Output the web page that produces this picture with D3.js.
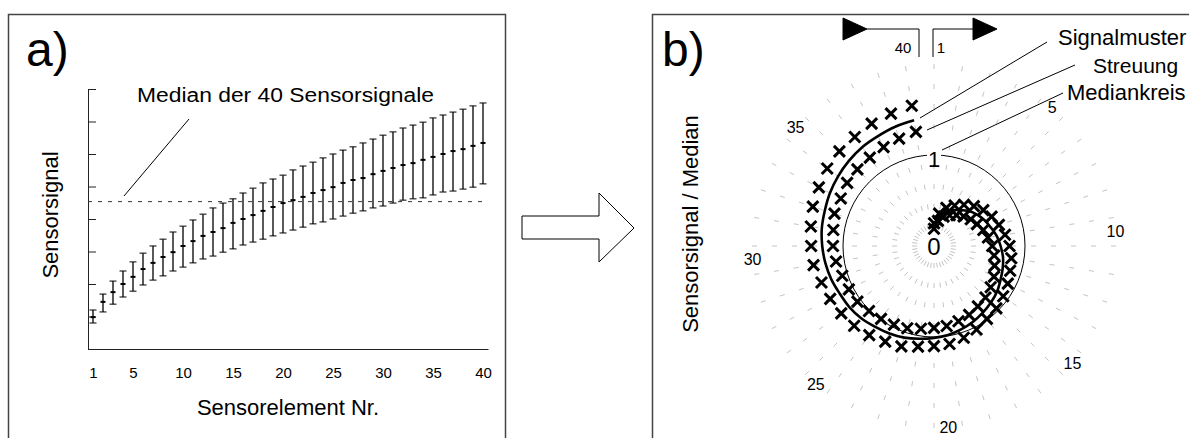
<!DOCTYPE html>
<html>

<head>
    <meta charset="utf-8" />
    <title>Sensorsignale</title>
    <script type="text/javascript" src="https://cdnjs.cloudflare.com/ajax/libs/d3/7.8.5/d3.min.js"></script>
    <style>
        body { margin: 0; background: #fff; }
        svg text { font-family: "Liberation Sans", Arial, sans-serif; fill: #000; }
    </style>
</head>

<body>
    <script type="text/javascript">
        // Sensorelemente 1..40
        const sensorNr = d3.range(1, 41);

        // a) Sensorsignal je Element: Median, Maximum, Minimum
        const medians = [0.98, 1.45, 1.75, 2.00, 2.22, 2.46, 2.65, 2.83, 2.98, 3.17,
            3.32, 3.48, 3.60, 3.72, 3.88, 4.00, 4.12, 4.25, 4.37, 4.49,
            4.58, 4.68, 4.80, 4.89, 4.98, 5.11, 5.20, 5.26, 5.38, 5.48,
            5.57, 5.66, 5.72, 5.82, 5.91, 6.00, 6.09, 6.15, 6.25, 6.34];
        const maxima = [1.20, 1.69, 2.09, 2.40, 2.68, 2.95, 3.17, 3.38, 3.60, 3.78,
            3.97, 4.15, 4.34, 4.49, 4.62, 4.80, 4.95, 5.11, 5.23, 5.35,
            5.51, 5.63, 5.75, 5.88, 6.00, 6.12, 6.22, 6.34, 6.46, 6.58,
            6.68, 6.80, 6.89, 6.98, 7.11, 7.20, 7.29, 7.38, 7.48, 7.57];
        const minima = [0.80, 1.14, 1.38, 1.60, 1.78, 1.97, 2.12, 2.25, 2.40, 2.52,
            2.65, 2.77, 2.86, 2.98, 3.08, 3.20, 3.29, 3.38, 3.48, 3.57,
            3.66, 3.75, 3.85, 3.91, 4.00, 4.09, 4.18, 4.25, 4.34, 4.40,
            4.49, 4.58, 4.62, 4.65, 4.74, 4.83, 4.86, 4.92, 4.98, 5.08];

        // b) Streuung (Sensorsignal / Median), aussen und innen
        const streuHi = [0.25, 0.36, 0.44, 0.50, 0.56, 0.62, 0.67, 0.71, 0.75, 0.79,
            0.83, 0.86, 0.88, 0.91, 0.94, 0.97, 0.99, 1.03, 1.06, 1.09,
            1.10, 1.12, 1.16, 1.18, 1.21, 1.24, 1.26, 1.28, 1.30, 1.34,
            1.35, 1.37, 1.40, 1.42, 1.45, 1.47, 1.48, 1.51, 1.53, 1.56];
        const streuLo = [0.19, 0.28, 0.34, 0.38, 0.42, 0.46, 0.50, 0.53, 0.57, 0.60,
            0.64, 0.67, 0.70, 0.74, 0.77, 0.80, 0.82, 0.85, 0.87, 0.89,
            0.90, 0.92, 0.95, 0.97, 0.99, 1.01, 1.04, 1.05, 1.06, 1.09,
            1.11, 1.12, 1.15, 1.15, 1.18, 1.19, 1.20, 1.22, 1.24, 1.27];

        const xTicks = [1, 5, 10, 15, 20, 25, 30, 35, 40];
        const yTicks = [0, 1, 2, 3, 4, 5, 6, 7, 8];
        const polarLabels = [5, 10, 15, 20, 25, 30, 35];
        const legendLabels = ["Signalmuster", "Streuung", "Mediankreis"];

        const overallMedian = d3.median(medians);
        const ratio = medians.map(m => m / overallMedian);

        const svg = d3.select("body").append("svg")
            .attr("width", 1189)
            .attr("height", 438);

        // Rahmen
        svg.append("rect")
            .attr("x", 8.5).attr("y", 14.5).attr("width", 497).attr("height", 460)
            .attr("fill", "none").attr("stroke", "#444").attr("stroke-width", 1.5);
        svg.append("rect")
            .attr("x", 652.5).attr("y", 14.5).attr("width", 600).attr("height", 460)
            .attr("fill", "none").attr("stroke", "#444").attr("stroke-width", 1.5);

        svg.append("text").attr("x", 26).attr("y", 66).attr("font-size", 48).text("a)");
        svg.append("text").attr("x", 662).attr("y", 66).attr("font-size", 48).text("b)");

        // ---------- a) ----------
        const x = d3.scaleLinear().domain([0.5, 40.5]).range([88, 488]);
        const y = d3.scaleLinear().domain([0, 8]).range([349, 89]);

        const gA = svg.append("g");

        gA.append("g")
            .attr("transform", `translate(${x.range()[0]},0)`)
            .call(d3.axisRight(y).tickValues(yTicks).tickSize(8).tickSizeOuter(0).tickFormat(""))
            .attr("color", "#222");

        gA.append("g")
            .attr("transform", `translate(0,${y(0)})`)
            .call(d3.axisBottom(x).tickValues(xTicks).tickSize(0).tickSizeOuter(0).tickPadding(18))
            .attr("color", "#222")
            .attr("font-size", 15)
            .attr("font-family", null);

        gA.append("line")
            .attr("x1", x.range()[0]).attr("x2", x(40))
            .attr("y1", y(overallMedian)).attr("y2", y(overallMedian))
            .attr("stroke", "#333").attr("stroke-dasharray", "4,6");

        const bars = gA.append("g")
            .selectAll("g")
            .data(sensorNr)
            .join("g")
            .attr("transform", d => `translate(${x(d)},0)`)
            .attr("stroke", "#000");

        bars.append("line")
            .attr("y1", (d, i) => y(minima[i]))
            .attr("y2", (d, i) => y(maxima[i]))
            .attr("stroke-width", 1.3);
        bars.append("line")
            .attr("x1", -3.5).attr("x2", 3.5)
            .attr("y1", (d, i) => y(maxima[i])).attr("y2", (d, i) => y(maxima[i]));
        bars.append("line")
            .attr("x1", -3.5).attr("x2", 3.5)
            .attr("y1", (d, i) => y(minima[i])).attr("y2", (d, i) => y(minima[i]));
        bars.append("line")
            .attr("x1", -2.5).attr("x2", 2.5)
            .attr("y1", (d, i) => y(medians[i])).attr("y2", (d, i) => y(medians[i]))
            .attr("stroke-width", 2);

        gA.append("line")
            .attr("x1", 124).attr("y1", 196).attr("x2", 189).attr("y2", 119)
            .attr("stroke", "#000");
        gA.append("text")
            .attr("x", 137).attr("y", 102)
            .attr("font-size", 20)
            .attr("textLength", 297).attr("lengthAdjust", "spacingAndGlyphs")
            .text("Median der 40 Sensorsignale");

        gA.append("text")
            .attr("transform", "translate(58,215) rotate(-90)")
            .attr("text-anchor", "middle")
            .attr("font-size", 22)
            .text("Sensorsignal");
        gA.append("text")
            .attr("x", 288).attr("y", 415)
            .attr("text-anchor", "middle")
            .attr("font-size", 22)
            .text("Sensorelement Nr.");

        // Pfeil zwischen den Bildern
        svg.append("polygon")
            .attr("points", "522,216 599,216 599,193 634,228 599,262 599,239 522,239")
            .attr("fill", "#fff").attr("stroke", "#000");

        // ---------- b) ----------
        const cx = 934, cy = 246;
        const r = d3.scaleLinear().domain([0, 1]).range([0, 91]);
        const ang = d3.scaleLinear().domain([1, 41]).range([0, 2 * Math.PI]);
        const pt = (a, rr) => [rr * Math.sin(a), -rr * Math.cos(a)];

        const gB = svg.append("g").attr("transform", `translate(${cx},${cy})`);

        gB.append("g")
            .selectAll("line")
            .data(sensorNr)
            .join("line")
            .attr("x1", d => pt(ang(d), 17)[0]).attr("y1", d => pt(ang(d), 17)[1])
            .attr("x2", d => pt(ang(d), r(2))[0]).attr("y2", d => pt(ang(d), r(2))[1])
            .attr("stroke", "#c4c4c4")
            .attr("stroke-dasharray", "5,15");

        gB.append("circle")
            .attr("r", r(1))
            .attr("fill", "none").attr("stroke", "#000").attr("stroke-width", 1);

        const signalLine = d3.lineRadial()
            .angle((d, i) => ang(sensorNr[i]))
            .radius(d => r(d))
            .curve(d3.curveCardinal);

        gB.append("path")
            .attr("d", signalLine(ratio))
            .attr("fill", "none").attr("stroke", "#000").attr("stroke-width", 2.6);

        const cross = "M-5.5,-5.5L5.5,5.5M-5.5,5.5L5.5,-5.5";
        [streuLo, streuHi].forEach(series => {
            gB.append("g")
                .selectAll("path")
                .data(series)
                .join("path")
                .attr("transform", (d, i) => `translate(${pt(ang(sensorNr[i]), r(d))})`)
                .attr("d", cross)
                .attr("stroke", "#000").attr("stroke-width", 3);
        });

        gB.append("rect")
            .attr("x", -7).attr("y", -r(1) - 12).attr("width", 14).attr("height", 19)
            .attr("fill", "#fff");
        gB.append("text")
            .attr("y", -r(1) + 12)
            .attr("text-anchor", "middle")
            .attr("font-size", 22)
            .text("1");
        gB.append("text")
            .attr("y", 8.5)
            .attr("text-anchor", "middle")
            .attr("font-size", 24)
            .text("0");

        gB.append("g")
            .selectAll("text")
            .data(polarLabels)
            .join("text")
            .attr("x", d => pt(ang(d + 0.5), 182)[0])
            .attr("y", d => pt(ang(d + 0.5), 182)[1])
            .attr("dy", "0.32em")
            .attr("text-anchor", "middle")
            .attr("font-size", 16)
            .text(d => d);

        // Laufrichtung oben
        const dirG = svg.append("g").attr("stroke", "#000").attr("fill", "none");
        dirG.append("path").attr("d", `M${cx - 67},29H${cx - 15}V57`);
        dirG.append("path").attr("d", `M${cx - 1},57V29H${cx + 39}`);
        dirG.append("polygon")
            .attr("points", `${cx - 91},18 ${cx - 67},29 ${cx - 91},40`)
            .attr("fill", "#000");
        dirG.append("polygon")
            .attr("points", `${cx + 39},18 ${cx + 63},29 ${cx + 39},40`)
            .attr("fill", "#000");
        svg.append("text").attr("x", cx - 31).attr("y", 53)
            .attr("text-anchor", "middle").attr("font-size", 15).text(sensorNr[39]);
        svg.append("text").attr("x", cx + 7).attr("y", 53)
            .attr("text-anchor", "middle").attr("font-size", 15).text(sensorNr[0]);

        // Beschriftungen rechts
        const leaders = [
            [1047, 42, 920, 118],
            [1075, 65, 927, 130],
            [1063, 93, 942, 150]
        ];
        svg.append("g")
            .selectAll("line")
            .data(leaders)
            .join("line")
            .attr("x1", d => d[0]).attr("y1", d => d[1])
            .attr("x2", d => d[2]).attr("y2", d => d[3])
            .attr("stroke", "#000");

        svg.append("text").attr("x", 1058).attr("y", 45).attr("font-size", 22).text(legendLabels[0]);
        svg.append("text").attr("x", 1093).attr("y", 73).attr("font-size", 21).text(legendLabels[1]);
        svg.append("text").attr("x", 1067).attr("y", 100).attr("font-size", 22).text(legendLabels[2]);

        svg.append("text")
            .attr("transform", "translate(698,224) rotate(-90)")
            .attr("text-anchor", "middle")
            .attr("font-size", 22)
            .text("Sensorsignal / Median");
    </script>
</body>

</html>
